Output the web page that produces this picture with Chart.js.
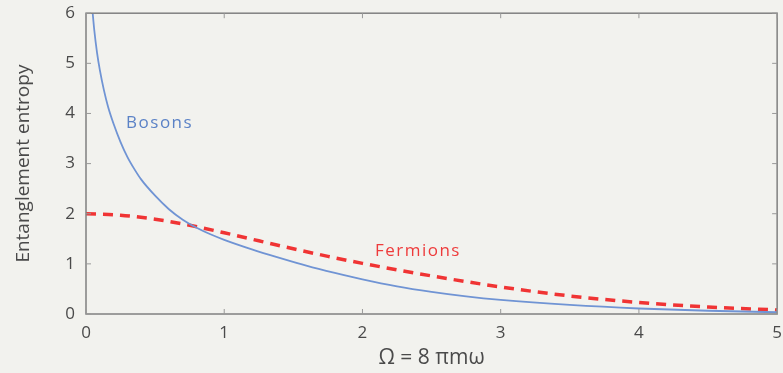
<!DOCTYPE html>
<html>
<head>
<meta charset="utf-8">
<script src="https://cdn.jsdelivr.net/npm/chart.js@4/dist/chart.umd.min.js"></script>
<style>
html,body{margin:0;padding:0;background:#f2f2ee;}
#wrap{width:783px;height:373px;}
</style>
</head>
<body>
<div id="wrap"><canvas id="c" width="783" height="373"></canvas></div>
<script>
const bosonX = [0.042, 0.06, 0.08, 0.1, 0.13, 0.16, 0.2, 0.25, 0.3, 0.35, 0.4, 0.5, 0.6, 0.7, 0.8, 0.9, 1.0, 1.2, 1.4, 1.6, 1.8, 2.0, 2.25, 2.5, 2.75, 3.0, 3.5, 4.0, 4.5, 5.0];
const bosonY = [6.2, 5.66, 5.21, 4.87, 4.46, 4.13, 3.79, 3.43, 3.13, 2.89, 2.68, 2.36, 2.09, 1.88, 1.72, 1.59, 1.48, 1.29, 1.12, 0.96, 0.82, 0.69, 0.55, 0.44, 0.35, 0.28, 0.18, 0.11, 0.065, 0.035];
const fermionX = [0, 0.25, 0.5, 0.75, 1.0, 1.25, 1.5, 1.75, 2.0, 2.5, 3.0, 3.5, 4.0, 4.5, 5.0];
const fermionY = [2.0, 1.97, 1.89, 1.77, 1.62, 1.46, 1.30, 1.15, 1.01, 0.76, 0.54, 0.36, 0.23, 0.14, 0.08];
const xTicks = [0, 1, 2, 3, 4, 5];
const yTicks = [0, 1, 2, 3, 4, 5, 6];
const seriesLabels = ["Bosons", "Fermions"];

const toPts = (xs, ys) => xs.map((x, i) => ({x: x, y: ys[i]}));
const FONT = "'Open Sans', 'DejaVu Sans', sans-serif";

const framePlugin = {
  id: 'frame',
  beforeDraw(chart) {
    const ctx = chart.ctx;
    ctx.save();
    ctx.fillStyle = '#f2f2ee';
    ctx.fillRect(0, 0, chart.width, chart.height);
    ctx.restore();
  },
  afterDatasetsDraw(chart) {
    const {ctx, chartArea: a, scales} = chart;
    ctx.save();
    ctx.strokeStyle = '#808080';
    ctx.lineWidth = 1.5;
    ctx.strokeRect(a.left, a.top, a.right - a.left, a.bottom - a.top);
    ctx.lineWidth = 1;
    ctx.strokeStyle = '#999';
    xTicks.forEach(v => {
      const px = scales.x.getPixelForValue(v);
      ctx.beginPath(); ctx.moveTo(px, a.bottom); ctx.lineTo(px, a.bottom - 5); ctx.stroke();
      ctx.beginPath(); ctx.moveTo(px, a.top); ctx.lineTo(px, a.top + 5); ctx.stroke();
    });
    yTicks.forEach(v => {
      const py = scales.y.getPixelForValue(v);
      ctx.beginPath(); ctx.moveTo(a.left, py); ctx.lineTo(a.left + 5, py); ctx.stroke();
      ctx.beginPath(); ctx.moveTo(a.right, py); ctx.lineTo(a.right - 5, py); ctx.stroke();
    });
    ctx.font = "17px " + FONT;
    try { ctx.letterSpacing = '1.5px'; } catch (e) {}
    ctx.textBaseline = 'middle';
    ctx.textAlign = 'left';
    ctx.fillStyle = '#5b82c6';
    ctx.fillText(seriesLabels[0], scales.x.getPixelForValue(0.29), scales.y.getPixelForValue(3.8));
    ctx.fillStyle = '#ee3b3b';
    ctx.fillText(seriesLabels[1], scales.x.getPixelForValue(2.09), scales.y.getPixelForValue(1.25));
    ctx.restore();
  }
};

new Chart(document.getElementById('c'), {
  type: 'scatter',
  data: {
    datasets: [
      {
        label: seriesLabels[0],
        data: toPts(bosonX, bosonY),
        showLine: true,
        borderColor: '#7094d4',
        borderWidth: 1.8,
        pointRadius: 0,
        cubicInterpolationMode: 'monotone',
        fill: false
      },
      {
        label: seriesLabels[1],
        data: toPts(fermionX, fermionY),
        showLine: true,
        borderColor: '#f03434',
        borderWidth: 3.5,
        borderDash: [10, 7],
        pointRadius: 0,
        cubicInterpolationMode: 'monotone',
        fill: false
      }
    ]
  },
  options: {
    responsive: false,
    animation: false,
    devicePixelRatio: 1,
    layout: {padding: {top: 13, right: 4, left: 0, bottom: 0}},
    plugins: {legend: {display: false}, tooltip: {enabled: false}},
    scales: {
      x: {
        type: 'linear', min: 0, max: 5,
        afterFit(scale) { scale.height = 59; },
        afterBuildTicks(scale) { scale.ticks = xTicks.map(v => ({value: v})); },
        grid: {display: false},
        border: {display: false},
        ticks: {font: {size: 17, family: FONT}, color: '#4a4a4a', padding: 1, maxRotation: 0, autoSkip: false},
        title: {display: true, text: 'Ω = 8 πmω', font: {size: 21, family: FONT}, color: '#4a4a4a', padding: {top: 0, bottom: 2}}
      },
      y: {
        type: 'linear', min: 0, max: 6,
        afterFit(scale) { scale.width = 86; },
        afterBuildTicks(scale) { scale.ticks = yTicks.map(v => ({value: v})); },
        grid: {display: false},
        border: {display: false},
        ticks: {font: {size: 17, family: FONT}, color: '#4a4a4a', padding: 3, autoSkip: false},
        title: {display: true, text: 'Entanglement entropy', font: {size: 19, family: FONT}, color: '#4a4a4a', padding: {top: 12, bottom: 0}}
      }
    }
  },
  plugins: [framePlugin]
});
</script>
</body>
</html>
